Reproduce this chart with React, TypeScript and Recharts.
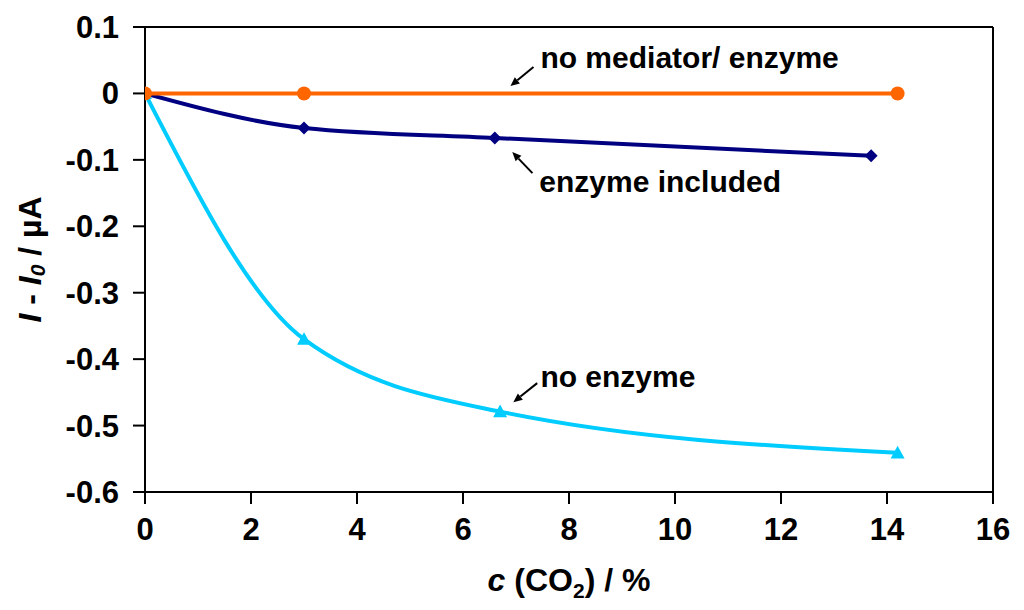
import React from 'react';
import { LineChart, Line, XAxis, YAxis, ReferenceLine, ReferenceDot, Label } from 'recharts';

const xTicks = [0, 2, 4, 6, 8, 10, 12, 14, 16];
const yTicks = [0.1, 0, -0.1, -0.2, -0.3, -0.4, -0.5, -0.6];

const noMediator = [
  { x: 0, y: 0 },
  { x: 3, y: 0 },
  { x: 14.2, y: 0 },
];
const enzymeIncluded = [
  { x: 0, y: 0 },
  { x: 3, y: -0.052 },
  { x: 6.6, y: -0.067 },
  { x: 13.7, y: -0.094 },
];
const noEnzyme = [
  { x: 0, y: 0 },
  { x: 3, y: -0.37 },
  { x: 6.7, y: -0.479 },
  { x: 14.2, y: -0.541 },
];

const annotations = [
  { text: 'no mediator/ enzyme', tx: 7.46, ty: 0.0548, x1: 7.33, y1: 0.0398, x2: 6.895, y2: 0.0111 },
  { text: 'enzyme included', tx: 7.44, ty: -0.1319, x1: 7.31, y1: -0.1199, x2: 6.93, y2: -0.0883 },
  { text: 'no enzyme', tx: 7.46, ty: -0.4256, x1: 7.4, y1: -0.4361, x2: 6.95, y2: -0.4648 },
];

const FONT = '"Liberation Sans", Arial, sans-serif';

const fmt = (v: number) => {
  const r = Math.round(v * 10) / 10;
  return r === 0 ? '0' : String(r);
};

const CircleDot = (props: any) => {
  const { cx, cy } = props;
  if (cx == null || cy == null) return null;
  return <circle cx={cx} cy={cy} r={7} fill="#FF6600" />;
};
const DiamondDot = (props: any) => {
  const { cx, cy } = props;
  if (cx == null || cy == null) return null;
  const s = 6.5;
  return <polygon points={`${cx},${cy - s} ${cx + s},${cy} ${cx},${cy + s} ${cx - s},${cy}`} fill="#000080" />;
};
const TriangleDot = (props: any) => {
  const { cx, cy } = props;
  if (cx == null || cy == null) return null;
  const s = 7;
  return <polygon points={`${cx},${cy - s} ${cx + s},${cy + s * 0.8} ${cx - s},${cy + s * 0.8}`} fill="#00CCFF" />;
};

const ArrowShape = (props: any) => {
  const { x1, y1, x2, y2 } = props;
  if ([x1, y1, x2, y2].some((v) => v == null || isNaN(v))) return null;
  const ang = Math.atan2(y2 - y1, x2 - x1);
  const L = 9;
  const W = 4;
  const bx = x2 - L * Math.cos(ang);
  const by = y2 - L * Math.sin(ang);
  const px = -Math.sin(ang) * W;
  const py = Math.cos(ang) * W;
  return (
    <g>
      <line x1={x1} y1={y1} x2={bx} y2={by} stroke="#000" strokeWidth={2} />
      <polygon points={`${x2},${y2} ${bx + px},${by + py} ${bx - px},${by - py}`} fill="#000" />
    </g>
  );
};

const YTitle = (props: any) => {
  const vb = props.viewBox || {};
  const cx = (vb.x ?? 0) + 30;
  const cy = (vb.y ?? 0) + (vb.height ?? 0) / 2;
  return (
    <text
      x={cx}
      y={cy}
      transform={`rotate(-90 ${cx} ${cy})`}
      textAnchor="middle"
      dominantBaseline="central"
      fontFamily={FONT}
      fontWeight="bold"
      fontSize={32}
      fill="#000"
    >
      <tspan fontStyle="italic">I</tspan>
      <tspan> - </tspan>
      <tspan fontStyle="italic">I</tspan>
      <tspan fontStyle="italic" fontSize={21} dy={7}>0</tspan>
      <tspan dy={-7}> / µA</tspan>
    </text>
  );
};

const XTitle = (props: any) => {
  const vb = props.viewBox || {};
  const cx = (vb.x ?? 0) + (vb.width ?? 0) / 2;
  const y = (vb.y ?? 0) + 99;
  return (
    <text x={cx} y={y} textAnchor="middle" fontFamily={FONT} fontWeight="bold" fontSize={32} fill="#000">
      <tspan fontStyle="italic">c</tspan>
      <tspan> (CO</tspan>
      <tspan fontSize={21} dy={7}>2</tspan>
      <tspan dy={-7}>) / %</tspan>
    </text>
  );
};

const AnnoText = (text: string) => (props: any) => {
  const vb = props.viewBox || {};
  const x = (vb.x ?? 0) + (vb.width ?? 0) / 2;
  const y = (vb.y ?? 0) + (vb.height ?? 0) / 2;
  return (
    <text x={x} y={y} dominantBaseline="central" fontFamily={FONT} fontWeight="bold" fontSize={30} fill="#000">
      {text}
    </text>
  );
};

export default function App() {
  return (
    <div style={{ position: 'absolute', left: 0, top: 0, width: 1024, height: 610, background: '#fff' }}>
      <LineChart width={1024} height={610} margin={{ top: 27, right: 31, bottom: 0, left: 0 }}>
        <XAxis
          type="number"
          dataKey="x"
          domain={[0, 16]}
          ticks={xTicks}
          allowDataOverflow
          height={118}
          axisLine={{ stroke: '#000', strokeWidth: 2 }}
          tickLine={{ stroke: '#000', strokeWidth: 2 }}
          tickSize={12}
          tickMargin={14}
          tick={{ fill: '#000', fontFamily: FONT, fontWeight: 'bold', fontSize: 31 }}
        >
          <Label content={<XTitle />} />
        </XAxis>
        <YAxis
          type="number"
          dataKey="y"
          domain={[-0.6, 0.1]}
          ticks={yTicks}
          allowDataOverflow
          width={145}
          tickFormatter={fmt}
          axisLine={{ stroke: '#000', strokeWidth: 2 }}
          tickLine={{ stroke: '#000', strokeWidth: 2 }}
          tickSize={12}
          tickMargin={14}
          tick={{ fill: '#000', fontFamily: FONT, fontWeight: 'bold', fontSize: 31 }}
        >
          <Label content={<YTitle />} />
        </YAxis>
        <ReferenceLine y={0.1} stroke="#000" strokeWidth={2} ifOverflow="extendDomain" />
        <ReferenceLine x={16} stroke="#000" strokeWidth={2} />
        <Line
          data={noEnzyme}
          dataKey="y"
          type="monotone"
          stroke="#00CCFF"
          strokeWidth={4}
          dot={<TriangleDot />}
          activeDot={false}
          isAnimationActive={false}
        />
        <Line
          data={enzymeIncluded}
          dataKey="y"
          type="monotone"
          stroke="#000080"
          strokeWidth={4}
          dot={<DiamondDot />}
          activeDot={false}
          isAnimationActive={false}
        />
        <Line
          data={noMediator}
          dataKey="y"
          type="monotone"
          stroke="#FF6600"
          strokeWidth={4}
          dot={<CircleDot />}
          activeDot={false}
          isAnimationActive={false}
        />
        {annotations.map((a) => (
          <ReferenceLine
            key={'l' + a.text}
            segment={[{ x: a.x1, y: a.y1 }, { x: a.x2, y: a.y2 }]}
            shape={<ArrowShape />}
          />
        ))}
        {annotations.map((a) => (
          <ReferenceDot key={'t' + a.text} x={a.tx} y={a.ty} r={0} stroke="none" fill="none">
            <Label content={AnnoText(a.text)} />
          </ReferenceDot>
        ))}
      </LineChart>
    </div>
  );
}
